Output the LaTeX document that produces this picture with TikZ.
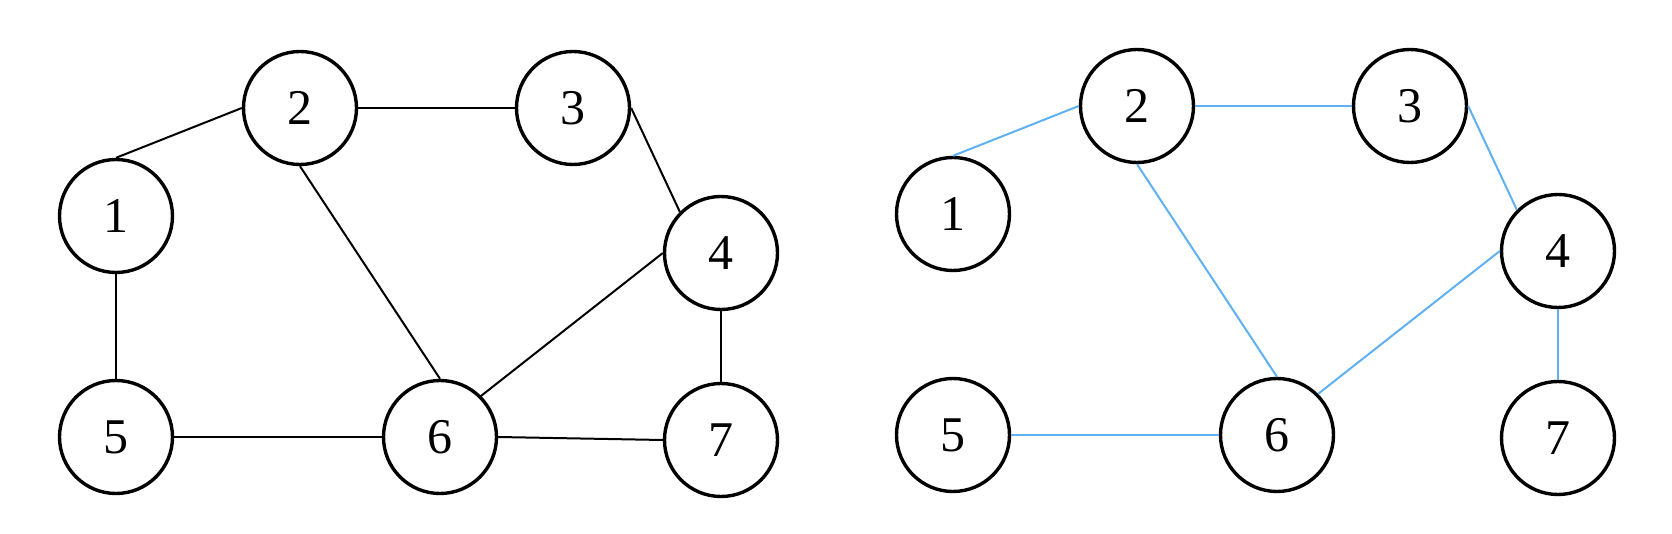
\documentclass[tikz,border=0pt]{standalone}
\usepackage{fontspec}
\setmainfont{Liberation Serif}
\usepackage{tikz}
\usetikzlibrary{positioning}
\definecolor{edgeblue}{RGB}{96,176,244}
\tikzset{
  vertex/.style={circle, draw, line width=1.7pt, minimum size=56.5pt, inner sep=0pt, font=\fontsize{25}{25}\selectfont},
  edge/.style={line width=1pt},
  treeedge/.style={edge, edgeblue}
}

\begin{document}
\begin{tikzpicture}[x=0.5pt, y=-0.5pt]

% page
\useasboundingbox (0,0) rectangle (1672,534);

% vertices of both graphs
\foreach \n/\x/\y in {1/116/216, 2/300/108, 3/573/108, 4/721/253,
                      5/116/437, 6/440/437, 7/721/440} {
    \node[vertex] (a\n) at (\x,\y) {\n};
    \node[vertex] (b\n) at (\x+837,\y-2) {\n};
}

% left graph
\foreach \s/\t in {1.north/2.west, 2.east/3.west, 2.south/6.north,
                   3.east/4.north west, 4.west/6.north east, 4.south/7.north,
                   1.south/5.north, 5.east/6.west, 6.east/7.west}
    \draw[edge] (a\s) -- (a\t);

% right graph (spanning tree)
\foreach \s/\t in {1.north/2.west, 2.east/3.west, 2.south/6.north,
                   3.east/4.north west, 4.west/6.north east, 4.south/7.north,
                   5.east/6.west}
    \draw[treeedge] (b\s) -- (b\t);

\end{tikzpicture}
\end{document}
